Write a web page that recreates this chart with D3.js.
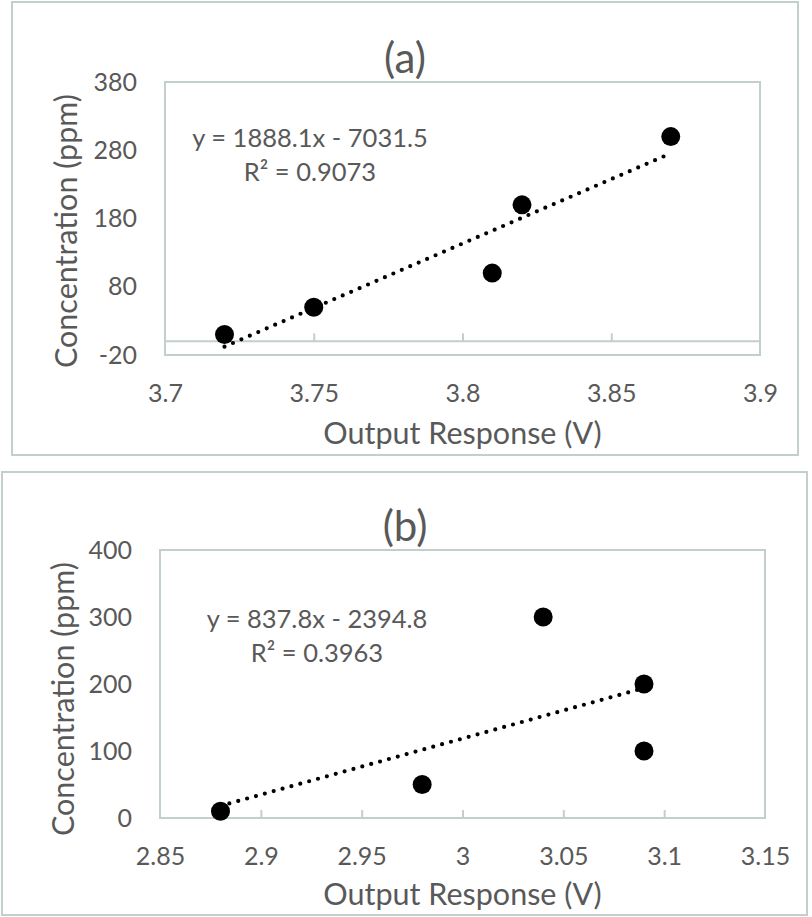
<!DOCTYPE html>
<html>
<head>
<meta charset="utf-8">
<script src="https://cdn.jsdelivr.net/npm/d3@7"></script>
<style>
  html, body { margin: 0; padding: 0; background: #fff; }
  svg { display: block; }
  text { font-family: Lato, "Open Sans", sans-serif; fill: #595959; }
</style>
</head>
<body>
<svg id="chart" width="812" height="917"></svg>
<script>
// ---- Data ----
const titles = ["(a)", "(b)"];
const xA = [3.72, 3.75, 3.81, 3.82, 3.87];
const yA = [10, 50, 100, 200, 300];
const xB = [2.88, 2.98, 3.04, 3.09, 3.09];
const yB = [10, 50, 300, 200, 100];
const xTicksA = [3.7, 3.75, 3.8, 3.85, 3.9];
const yTicksA = [-20, 80, 180, 280, 380];
const xTicksB = [2.85, 2.9, 2.95, 3, 3.05, 3.1, 3.15];
const yTicksB = [0, 100, 200, 300, 400];
const trendA = [1888.1, -7031.5];   // slope, intercept
const trendB = [837.8, -2394.8];
const eqLinesA = ["y = 1888.1x - 7031.5", "R² = 0.9073"];
const eqLinesB = ["y = 837.8x - 2394.8", "R² = 0.3963"];
const xTitle = "Output Response (V)";
const yTitle = "Concentration (ppm)";

// ---- Layout ----
const borderColor = "#c2d0cb";
const panels = [
  { title: titles[0], xs: xA, ys: yA, xTicks: xTicksA, yTicks: yTicksA, trend: trendA, eq: eqLinesA,
    outer: { x0: 12, y0: 2, x1: 798, y1: 455 },
    plot: { x0: 165, y0: 82, x1: 760, y1: 355 },
    titleXY: [405, 56.5], eqXY: [310, 137], xTitleXY: [462.5, 432], yTitleXY: [65, 231] },
  { title: titles[1], xs: xB, ys: yB, xTicks: xTicksB, yTicks: yTicksB, trend: trendB, eq: eqLinesB,
    outer: { x0: 2, y0: 472, x1: 807, y1: 915 },
    plot: { x0: 160, y0: 550, x1: 765, y1: 818 },
    titleXY: [405, 525], eqXY: [317, 618], xTitleXY: [462.5, 893], yTitleXY: [62, 699] }
];

const svg = d3.select("#chart");

panels.forEach(p => {
  const g = svg.append("g");
  // outer chart border
  g.append("rect")
    .attr("x", p.outer.x0).attr("y", p.outer.y0)
    .attr("width", p.outer.x1 - p.outer.x0).attr("height", p.outer.y1 - p.outer.y0)
    .attr("fill", "#fff").attr("stroke", borderColor).attr("stroke-width", 2);

  const x = d3.scaleLinear()
    .domain([p.xTicks[0], p.xTicks[p.xTicks.length - 1]])
    .range([p.plot.x0, p.plot.x1]);
  const y = d3.scaleLinear()
    .domain([p.yTicks[0], p.yTicks[p.yTicks.length - 1]])
    .range([p.plot.y1, p.plot.y0]);

  // plot area border
  g.append("rect")
    .attr("x", p.plot.x0).attr("y", p.plot.y0)
    .attr("width", p.plot.x1 - p.plot.x0).attr("height", p.plot.y1 - p.plot.y0)
    .attr("fill", "none").attr("stroke", borderColor).attr("stroke-width", 2);

  // horizontal axis line at y = 0
  g.append("line")
    .attr("x1", p.plot.x0).attr("x2", p.plot.x1)
    .attr("y1", y(0)).attr("y2", y(0))
    .attr("stroke", borderColor).attr("stroke-width", 2);

  // tick marks (pointing up from zero line)
  const inner = p.xTicks.slice(1, -1);
  const tickAxis = g.append("g")
    .attr("transform", `translate(0,${y(0)})`)
    .call(d3.axisTop(x).tickValues(inner).tickSize(8).tickFormat(""));
  tickAxis.select(".domain").remove();
  tickAxis.selectAll("line").attr("stroke", borderColor).attr("stroke-width", 2);

  // x tick labels (at the bottom of the plot area)
  const xAxis = g.append("g")
    .attr("transform", `translate(0,${p.plot.y1})`)
    .call(d3.axisBottom(x).tickValues(p.xTicks).tickSize(0).tickPadding(29)
      .tickFormat(d => String(+d.toFixed(2))));
  xAxis.select(".domain").remove();
  xAxis.selectAll("text").attr("font-size", 25).attr("font-family", "Lato").attr("fill", "#595959");

  // y tick labels
  const yAxis = g.append("g")
    .attr("transform", `translate(${p.plot.x0},0)`)
    .call(d3.axisLeft(y).tickValues(p.yTicks).tickSize(0).tickPadding(28)
      .tickFormat(d => String(d)));
  yAxis.select(".domain").remove();
  yAxis.selectAll("text").attr("font-size", 25).attr("font-family", "Lato").attr("fill", "#595959");

  // trendline (dotted)
  const xmin = d3.min(p.xs), xmax = d3.max(p.xs);
  const line = d3.line().x(d => x(d[0])).y(d => y(d[1]));
  g.append("path")
    .datum([[xmin, p.trend[0] * xmin + p.trend[1]], [xmax, p.trend[0] * xmax + p.trend[1]]])
    .attr("d", line)
    .attr("fill", "none").attr("stroke", "#000").attr("stroke-width", 4.2)
    .attr("stroke-linecap", "round").attr("stroke-dasharray", "0,9.2");

  // points
  g.selectAll("circle.pt")
    .data(p.xs.map((v, i) => [v, p.ys[i]]))
    .join("circle").attr("class", "pt")
    .attr("cx", d => x(d[0])).attr("cy", d => y(d[1]))
    .attr("r", 9.5).attr("fill", "#000");

  // title
  g.append("text")
    .attr("x", p.titleXY[0]).attr("y", p.titleXY[1])
    .attr("text-anchor", "middle").attr("dominant-baseline", "central")
    .attr("font-size", 42).text(p.title);

  // equation
  p.eq.forEach((t, i) => {
    g.append("text")
      .attr("x", p.eqXY[0]).attr("y", p.eqXY[1] + i * 34)
      .attr("text-anchor", "middle").attr("dominant-baseline", "central")
      .attr("font-size", 25.5).text(t);
  });

  // axis titles
  g.append("text")
    .attr("x", p.xTitleXY[0]).attr("y", p.xTitleXY[1])
    .attr("text-anchor", "middle").attr("dominant-baseline", "central")
    .attr("font-size", 30.5).text(xTitle);
  g.append("text")
    .attr("transform", `translate(${p.yTitleXY[0]},${p.yTitleXY[1]}) rotate(-90)`)
    .attr("text-anchor", "middle").attr("dominant-baseline", "central")
    .attr("font-size", 30.5).text(yTitle);
});
</script>
</body>
</html>
